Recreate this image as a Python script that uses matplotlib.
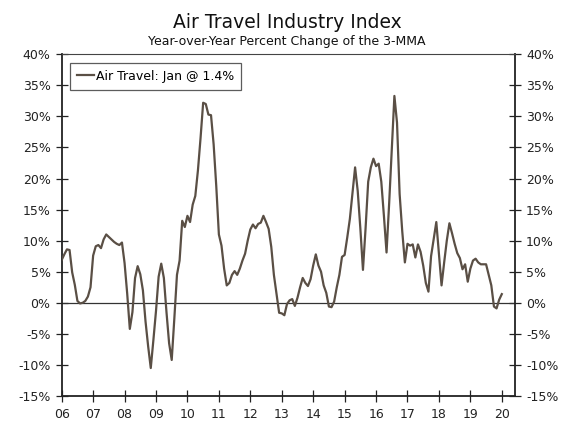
import matplotlib
matplotlib.use("Agg")
import matplotlib.pyplot as plt
import numpy as np

# Monthly YoY % change, Jan 2006 .. Jan 2020
y2006 = [6.9, 7.8, 8.6, 8.5, 4.9, 2.9, 0.3, -0.1, 0.0, 0.3, 1.0, 2.5]
y2007 = [7.6, 9.1, 9.3, 8.8, 10.2, 11.0, 10.6, 10.2, 9.8, 9.5, 9.3, 9.7]
y2008 = [6.4, 1.5, -4.2, -1.5, 4.0, 5.9, 4.6, 2.0, -3.0, -7.0, -10.5, -6.0]
y2009 = [-1.3, 4.2, 6.3, 4.0, -1.5, -6.5, -9.2, -2.5, 4.5, 6.8, 13.2, 12.2]
y2010 = [14.0, 13.0, 15.8, 17.2, 21.3, 26.5, 32.2, 32.0, 30.3, 30.2, 25.5, 18.8]
y2011 = [11.0, 9.2, 5.5, 2.8, 3.2, 4.5, 5.1, 4.5, 5.5, 6.8, 7.9, 10.0]
y2012 = [11.8, 12.6, 12.0, 12.7, 12.9, 14.0, 13.0, 11.9, 9.0, 4.5, 1.5, -1.6]
y2013 = [-1.7, -2.0, -0.2, 0.4, 0.6, -0.5, 0.8, 2.5, 4.0, 3.2, 2.7, 3.8]
y2014 = [6.0, 7.8, 6.0, 5.0, 2.8, 1.6, -0.6, -0.7, 0.2, 2.5, 4.5, 7.4]
y2015 = [7.7, 10.5, 13.5, 17.6, 21.8, 18.0, 12.0, 5.3, 12.0, 19.5, 21.8, 23.2]
y2016 = [22.0, 22.4, 19.5, 14.0, 8.1, 16.0, 24.5, 33.3, 29.0, 17.5, 11.5, 6.5]
y2017 = [9.5, 9.2, 9.4, 7.3, 9.4, 8.2, 6.0, 3.2, 1.8, 7.5, 10.3, 13.0]
y2018 = [8.0, 2.8, 6.5, 10.0, 12.8, 11.2, 9.5, 8.0, 7.2, 5.4, 6.2, 3.4]
y2019 = [5.5, 6.8, 7.1, 6.5, 6.2, 6.2, 6.2, 4.5, 2.8, -0.6, -0.9, 0.5]
y2020 = [1.4]

values = (y2006 + y2007 + y2008 + y2009 + y2010 + y2011 + y2012 + y2013 +
          y2014 + y2015 + y2016 + y2017 + y2018 + y2019 + y2020)
start_year = 2006
years = [2006 + i for i in range(15)]
year_labels = ["06", "07", "08", "09", "10", "11", "12", "13", "14", "15",
               "16", "17", "18", "19", "20"]
y_ticks = [-15, -10, -5, 0, 5, 10, 15, 20, 25, 30, 35, 40]

x = start_year + np.arange(len(values)) / 12.0

plt.rcParams['font.family'] = ['DejaVu Sans']

fig = plt.figure(figsize=(5.74, 4.21), dpi=100)
ax = fig.add_axes([61.7/574, 1 - 396/421, (515 - 61.7)/574, (396 - 54.3)/421])

line_color = "#5a4f45"
ax.plot(x, values, color=line_color, lw=1.6, label="Air Travel: Jan @ 1.4%",
        solid_joinstyle="round", zorder=3)
ax.axhline(0, color="#333333", lw=0.9, zorder=2)

ax.set_xlim(2006.0, 2020.42)
ax.set_ylim(-15, 40)
ax.set_xticks(years)
ax.set_xticklabels(year_labels)
ax.set_yticks(y_ticks)
ax.set_yticklabels([f"{v}%" for v in y_ticks])

ax.tick_params(axis='y', direction='inout', length=8, width=0.9, labelsize=9,
               left=True, right=True, labelleft=True, labelright=True, pad=4,
               colors="#222222")
ax.tick_params(axis='x', direction='inout', length=8, width=0.9, labelsize=9,
               pad=5, colors="#222222")

for s in ["left", "right", "bottom"]:
    ax.spines[s].set_linewidth(1.3)
    ax.spines[s].set_color("#222222")
ax.spines["top"].set_linewidth(0.8)
ax.spines["top"].set_color("#444444")

leg = ax.legend(loc="upper left", bbox_to_anchor=(0.018, 0.975), fontsize=9,
                frameon=True, fancybox=False, handlelength=1.4,
                handletextpad=0.15, borderpad=0.55, borderaxespad=0.0)
leg.get_frame().set_edgecolor("#333333")
leg.get_frame().set_linewidth(0.9)

fig.text(0.5, 1 - 22.5/421, "Air Travel Industry Index", ha="center",
         va="center", fontsize=13.5, color="#111111")
fig.text(0.5, 1 - 41.5/421, "Year-over-Year Percent Change of the 3-MMA",
         ha="center", va="center", fontsize=9, color="#111111")

fig.savefig("out.png", dpi=100)
